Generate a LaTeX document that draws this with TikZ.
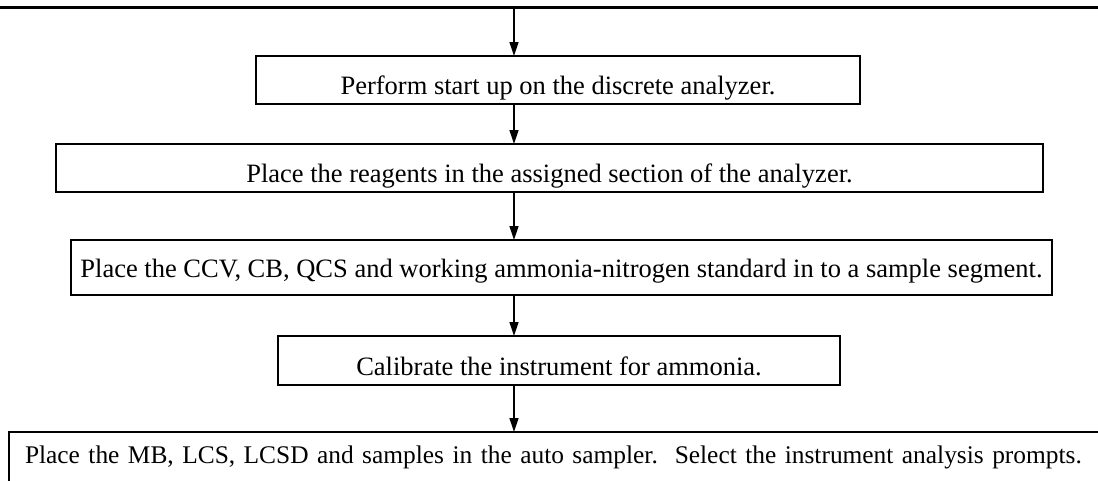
\documentclass[tikz,border=0pt]{standalone}
\usepackage{fontspec}
\setmainfont{Liberation Serif}
\usetikzlibrary{arrows.meta}
\begin{document}
\begin{tikzpicture}[x=1pt,y=-1pt,
  stepbox/.style={draw=black,line width=1.5pt,inner sep=0pt,outer sep=0pt,align=center,
    font=\fontsize{26.5}{30}\selectfont},
  flow/.style={line width=1.3pt,-{Triangle[length=14pt,width=9pt]}},
  topline/.style={line width=2.2pt}]
\useasboundingbox (0,0) rectangle (1098,480);
\clip (0,0) rectangle (1098,480);
\coordinate (L) at (0,7.5);
\coordinate (R) at (1098,7.5);
\coordinate (X) at (514,0);
\draw[topline] (L) -- (R);
\node[stepbox,minimum width=604pt,minimum height=48pt,text height=38pt,text depth=10pt] (b1) at (558,80) {Perform start up on the discrete analyzer.};
\node[stepbox,minimum width=987pt,minimum height=48pt,text height=38pt,text depth=10pt] (b2) at (549.5,168) {Place the reagents in the assigned section of the analyzer.};
\node[stepbox,minimum width=981pt,minimum height=55pt,text height=37pt,text depth=18pt] (b3) at (561.5,267.5) {Place the CCV, CB, QCS and working ammonia-nitrogen standard in to a sample segment.};
\node[stepbox,minimum width=562pt,minimum height=49pt,text height=39pt,text depth=10pt] (b4) at (559,360.5) {Calibrate the instrument for ammonia.};
\node[stepbox,font=\fontsize{25.4}{30}\selectfont,align=left,inner xsep=16pt,
  minimum width=1110pt,minimum height=58pt,text height=31pt,text depth=27pt,text width=1078pt] (b5) at (564,461) {Place the MB, LCS, LCSD and samples in the auto sampler.\ \ Select the instrument analysis prompts.};
\draw[flow] (L -| X) -- (b1.north -| X);
\draw[flow] (b1.south -| X) -- (b2.north -| X);
\draw[flow] (b2.south -| X) -- (b3.north -| X);
\draw[flow] (b3.south -| X) -- (b4.north -| X);
\draw[flow] (b4.south -| X) -- (b5.north -| X);
\end{tikzpicture}
\end{document}
